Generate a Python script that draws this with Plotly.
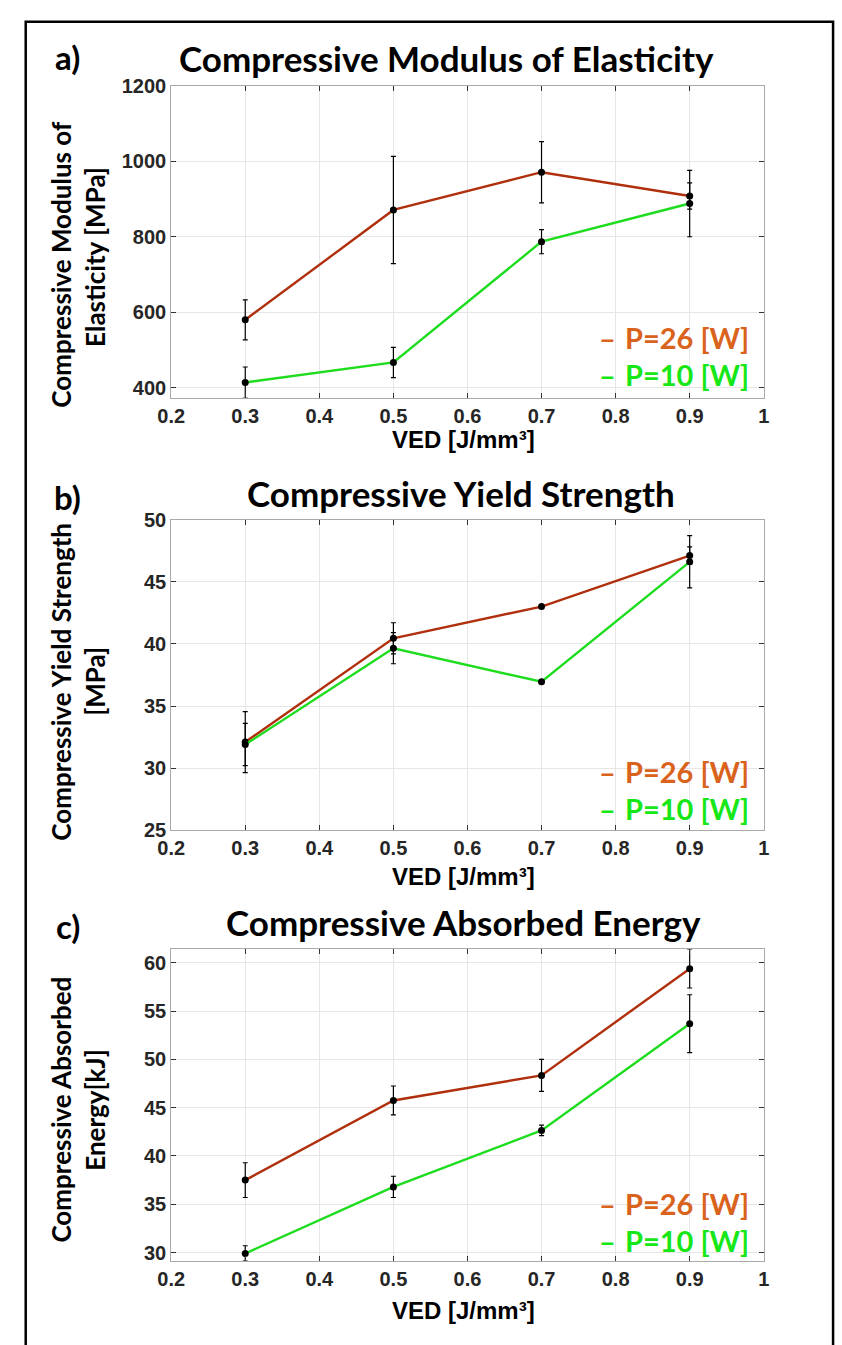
import plotly.graph_objects as go

W, H = 842, 1345

# ---------------- data ----------------
ved = [0.3, 0.5, 0.7, 0.9]
x_ticks = [0.2, 0.3, 0.4, 0.5, 0.6, 0.7, 0.8, 0.9, 1.0]
x_ticklabels = ["0.2", "0.3", "0.4", "0.5", "0.6", "0.7", "0.8", "0.9", "1"]

mod_p26 = [580, 871, 971, 908]
mod_p26_err = [53, 142, 81, 35]
mod_p10 = [414, 467, 787, 888]
mod_p10_err = [41, 40, 32, 88]
mod_ticks = [400, 600, 800, 1000, 1200]

ys_p26 = [32.1, 40.45, 43.0, 47.1]
ys_p26_err = [2.45, 1.25, 0.1, 0.7]
ys_p10 = [31.9, 39.65, 36.95, 46.6]
ys_p10_err = [1.7, 1.25, 0.1, 2.1]
ys_ticks = [25, 30, 35, 40, 45, 50]

ae_p26 = [37.5, 45.75, 48.35, 59.4]
ae_p26_err = [1.8, 1.5, 1.65, 2.0]
ae_p10 = [29.9, 36.8, 42.65, 53.7]
ae_p10_err = [0.8, 1.1, 0.55, 3.0]
ae_ticks = [30, 35, 40, 45, 50, 55, 60]

series_names = ["P=26 [W]", "P=10 [W]"]
line_colors = ["#B0300E", "#1EDC1E"]
legend_colors = ["#D9621C", "#17E617"]

panel_titles = ["Compressive Modulus of Elasticity",
                "Compressive Yield Strength",
                "Compressive Absorbed Energy"]
panel_letters = ["a)", "b)", "c)"]
ylabels = [["Compressive Modulus of", "Elasticity [MPa]"],
           ["Compressive Yield Strength", "[MPa]"],
           ["Compressive Absorbed", "Energy[kJ]"]]
xlabel = "VED [J/mm³]"

# ---------------- layout helpers ----------------
def px(x):
    return x / W

def py(y):
    return 1 - y / H

plot_left, plot_right = 161, 768
panels = [
    dict(top=76, bottom=393, yrange=[374, 1200], ticks=mod_ticks,
         data=[(mod_p26, mod_p26_err), (mod_p10, mod_p10_err)],
         title_x=443, title_y=48, letter_y=47, yl_y=[257, 250],
         leg_y=[332, 370], xl_y=436),
    dict(top=517, bottom=833, yrange=[25, 50], ticks=ys_ticks,
         data=[(ys_p26, ys_p26_err), (ys_p10, ys_p10_err)],
         title_x=458, title_y=490, letter_y=494, yl_y=[682, 682],
         leg_y=[773, 811], xl_y=880),
    dict(top=954, bottom=1271, yrange=[29.1, 61.4], ticks=ae_ticks,
         data=[(ae_p26, ae_p26_err), (ae_p10, ae_p10_err)],
         title_x=460, title_y=926, letter_y=930, yl_y=[1117, 1117],
         leg_y=[1212, 1250], xl_y=1321),
]

fig = go.Figure()
annotations = []
title_font = dict(family="Lato", size=35, color="black")
letter_font = dict(family="Lato", size=33, color="black")
label_font = dict(family="Lato", size=26, color="black")
tick_font = dict(family="Liberation Sans", size=20, color="#262626", weight="bold")

for i, p in enumerate(panels):
    xa = "x" if i == 0 else f"x{i+1}"
    ya = "y" if i == 0 else f"y{i+1}"
    for s in range(2):
        vals, errs = p["data"][s]
        fig.add_trace(go.Scatter(
            x=ved, y=vals, xaxis=xa, yaxis=ya, mode="lines+markers",
            name=series_names[s], showlegend=False,
            line=dict(color=line_colors[s], width=2.4),
            marker=dict(color="black", size=7),
            error_y=dict(type="data", array=errs, visible=True,
                         color="black", thickness=1.2, width=2.5),
        ))
    axis_common = dict(showgrid=True, gridcolor="#E6E6E6", gridwidth=1,
                       showline=True, linecolor="#AAAAAA", linewidth=1,
                       mirror="ticks", ticks="inside", ticklen=5,
                       tickcolor="#333333", tickwidth=1,
                       tickfont=tick_font, zeroline=False)
    xkey = "xaxis" if i == 0 else f"xaxis{i+1}"
    ykey = "yaxis" if i == 0 else f"yaxis{i+1}"
    fig.update_layout(**{
        xkey: dict(domain=[px(plot_left), px(plot_right)], range=[0.2, 1.0],
                   tickvals=x_ticks, ticktext=x_ticklabels,
                   anchor=ya, **axis_common),
        ykey: dict(domain=[py(p["bottom"]), py(p["top"])], range=p["yrange"],
                   tickvals=p["ticks"], anchor=xa, **axis_common),
    })
    # title
    annotations.append(dict(text=f"<b>{panel_titles[i]}</b>", x=px(p["title_x"]),
                            y=py(p["title_y"]), xref="paper", yref="paper",
                            xanchor="center", yanchor="middle", showarrow=False,
                            font=title_font))
    annotations.append(dict(text=f"<b>{panel_letters[i]}</b>", x=px(55),
                            y=py(p["letter_y"]), xref="paper", yref="paper",
                            xanchor="center", yanchor="middle", showarrow=False,
                            font=letter_font))
    # y label (two lines)
    for k, lx in enumerate([48, 83]):
        annotations.append(dict(text=f"<b>{ylabels[i][k]}</b>", x=px(lx),
                                y=py(p["yl_y"][k]), xref="paper", yref="paper",
                                xanchor="center", yanchor="middle", textangle=-90,
                                showarrow=False, font=label_font))
    # x label
    annotations.append(dict(text=f"<b>{xlabel}</b>", x=px(460), y=py(p["xl_y"]),
                            xref="paper", yref="paper", xanchor="center",
                            yanchor="middle", showarrow=False,
                            font=dict(family="Liberation Sans", size=24, color="black")))
    # legend
    for s in range(2):
        annotations.append(dict(text="<b>–</b>", x=px(608), y=py(p["leg_y"][s]),
                                xref="paper", yref="paper", xanchor="center",
                                yanchor="middle", showarrow=False,
                                font=dict(family="Lato", size=29, color=legend_colors[s])))
        annotations.append(dict(text=f"<b>{series_names[s]}</b>", x=px(755),
                                y=py(p["leg_y"][s]), xref="paper", yref="paper",
                                xanchor="right", yanchor="middle", showarrow=False,
                                font=dict(family="Lato", size=29, color=legend_colors[s])))

# outer frame (open at bottom)
frame_path = (f"M {px(12)},{py(1360)} L {px(12)},{py(11)} "
              f"L {px(839)},{py(11)} L {px(839)},{py(1360)}")
fig.update_layout(
    width=W, height=H, margin=dict(l=0, r=0, t=0, b=0),
    paper_bgcolor="white", plot_bgcolor="white",
    annotations=annotations,
    shapes=[dict(type="path", path=frame_path, xref="paper", yref="paper",
                 line=dict(color="black", width=2.5))],
)

fig.write_html("out.html",
               config={"displayModeBar": False},
               post_script="document.body.style.margin='0';"
                           "document.documentElement.style.overflow='hidden';")
